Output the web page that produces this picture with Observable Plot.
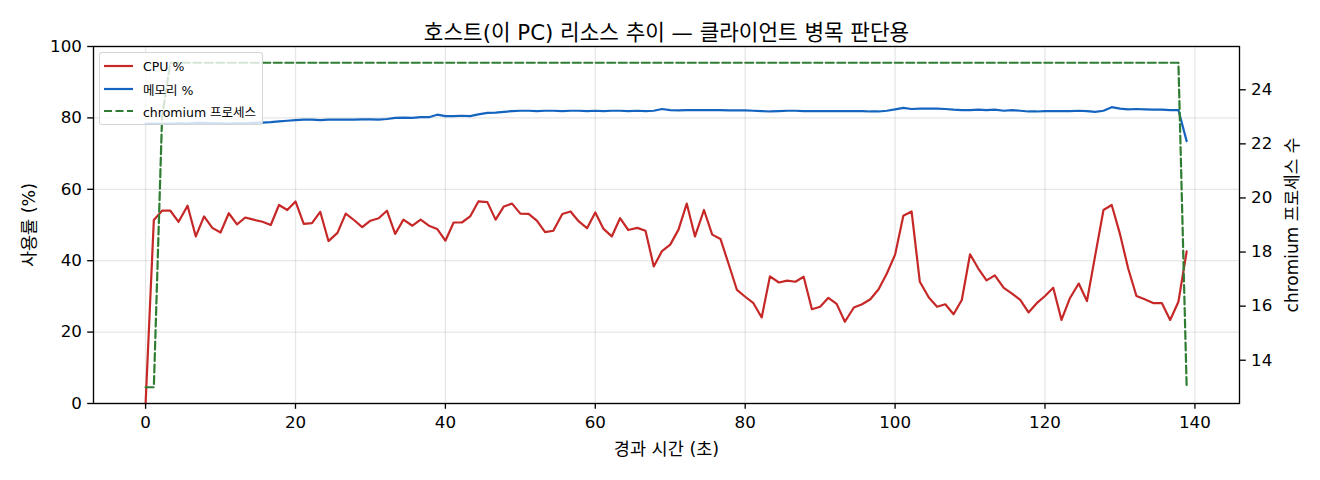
<!DOCTYPE html>
<html>
<head>
<meta charset="utf-8">
<script src="https://cdn.jsdelivr.net/npm/d3@7"></script>
<script src="https://cdn.jsdelivr.net/npm/@observablehq/plot@0.6"></script>
<style>
  html, body { margin: 0; padding: 0; background: #fff; }
  #wrap { position: relative; width: 1320px; height: 480px; font-family: "DejaVu Sans", "Noto Sans CJK KR", sans-serif; color: #000; }
  #wrap svg { position: absolute; left: 0; top: 0; }
  #legend { position: absolute; left: 99px; top: 52px; width: 162px; height: 71px; background: rgba(255,255,255,0.8); border: 1px solid rgba(204,204,204,0.8); border-radius: 3px; font-size: 12.5px; }
  .lrow { position: absolute; left: 4px; height: 20px; display: flex; align-items: center; }
  .lrow span { margin-left: 10px; white-space: nowrap; }
</style>
</head>
<body>
<div id="wrap"></div>
<script>
const title = "호스트(이 PC) 리소스 추이 — 클라이언트 병목 판단용";
const xLabel = "경과 시간 (초)";
const yLabelLeft = "사용률 (%)";
const yLabelRight = "chromium 프로세스 수";
const seriesNames = ["CPU %", "메모리 %", "chromium 프로세스"];
const seriesColors = ["#c62828", "#1565c0", "#2e7d32"];

const xTicks = [0, 20, 40, 60, 80, 100, 120, 140];
const yTicksLeft = [0, 20, 40, 60, 80, 100];
const yTicksRight = [14, 16, 18, 20, 22, 24];

const times = [
  0, 1.1, 2.2, 3.3, 4.4, 5.6, 6.7, 7.8, 8.9, 10.0,
  11.1, 12.2, 13.3, 14.4, 15.6, 16.7, 17.8, 18.9, 20.0, 21.1,
  22.2, 23.3, 24.4, 25.6, 26.7, 27.8, 28.9, 30.0, 31.1, 32.2,
  33.3, 34.4, 35.6, 36.7, 37.8, 38.9, 40.0, 41.1, 42.2, 43.3,
  44.4, 45.6, 46.7, 47.8, 48.9, 50.0, 51.1, 52.2, 53.3, 54.4,
  55.6, 56.7, 57.8, 58.9, 60.0, 61.1, 62.2, 63.3, 64.4, 65.6,
  66.7, 67.8, 68.9, 70.0, 71.1, 72.2, 73.3, 74.5, 75.6, 76.7,
  77.8, 78.9, 80.0, 81.1, 82.2, 83.3, 84.5, 85.6, 86.7, 87.8,
  88.9, 90.0, 91.1, 92.2, 93.3, 94.5, 95.6, 96.7, 97.8, 98.9,
  100.0, 101.1, 102.2, 103.3, 104.5, 105.6, 106.7, 107.8, 108.9, 110.0,
  111.1, 112.2, 113.3, 114.5, 115.6, 116.7, 117.8, 118.9, 120.0, 121.1,
  122.2, 123.3, 124.5, 125.6, 126.7, 127.8, 128.9, 130.0, 131.1, 132.2,
  133.3, 134.5, 135.6, 136.7, 137.8, 138.9
];

const cpu = [
  0, 51.4, 54.0, 54.0, 50.9, 55.4, 46.8, 52.4, 49.2, 47.9,
  53.3, 50.2, 52.1, 51.5, 50.9, 50.0, 55.6, 54.2, 56.6, 50.3,
  50.5, 53.7, 45.5, 47.8, 53.2, 51.4, 49.4, 51.2, 51.9, 54.0,
  47.5, 51.5, 49.8, 51.5, 49.8, 48.9, 45.6, 50.7, 50.7, 52.4,
  56.6, 56.4, 51.5, 55.2, 56.0, 53.2, 53.1, 51.2, 48.0, 48.4,
  53.1, 53.8, 51.0, 49.1, 53.5, 48.9, 46.8, 51.9, 48.6, 49.2,
  48.4, 38.4, 42.7, 44.5, 48.7, 56.0, 46.8, 54.2, 47.3, 46.1,
  39.0, 31.8, 29.9, 28.1, 24.1, 35.6, 33.9, 34.4, 34.1, 35.5,
  26.4, 27.1, 29.6, 27.9, 22.9, 26.9, 27.8, 29.2, 32.0, 36.4,
  41.7, 52.6, 53.8, 34.1, 29.7, 27.1, 27.8, 25.0, 29.0, 41.8,
  37.8, 34.5, 35.9, 32.4, 30.8, 29.0, 25.5, 28.1, 30.1, 32.4,
  23.4, 29.4, 33.6, 28.7, 41.5, 54.2, 55.6, 47.5, 37.8, 30.1,
  29.2, 28.1, 28.1, 23.4, 28.5, 42.6
];

const mem = [
  78.3, 78.4, 78.3, 78.4, 78.5, 78.4, 78.6, 78.6, 78.5,
  78.5, 78.4, 78.5, 78.5, 78.6, 78.7, 78.8, 79.0, 79.2,
  79.4, 79.5, 79.5, 79.4, 79.5, 79.5, 79.5, 79.5, 79.6,
  79.6, 79.5, 79.7, 80.0, 80.1, 80.0, 80.2, 80.2, 80.9,
  80.5, 80.5, 80.6, 80.5, 81.0, 81.4, 81.5, 81.7, 81.9,
  82.0, 82.0, 81.9, 82.0, 82.0, 81.9, 82.0, 82.0, 81.9,
  82.0, 81.9, 82.0, 82.0, 81.9, 82.0, 81.9, 82.0, 82.5,
  82.2, 82.1, 82.2, 82.2, 82.2, 82.2, 82.2, 82.1, 82.1,
  82.1, 82.0, 81.9, 81.8, 81.9, 82.0, 82.0, 81.9, 81.9,
  81.9, 81.9, 81.9, 81.9, 81.9, 81.9, 81.8, 81.8, 82.0,
  82.4, 82.8, 82.5, 82.6, 82.6, 82.6, 82.5, 82.3, 82.2,
  82.2, 82.3, 82.2, 82.3, 82.0, 82.2, 82.0, 81.8, 81.8,
  81.9, 81.9, 81.9, 81.9, 82.0, 81.9, 81.7, 82.0, 83.0,
  82.6, 82.4, 82.5, 82.4, 82.3, 82.3, 82.2, 82.2, 73.5
];

const chromium = [
  13, 13, 23,
  25, 25, 25, 25, 25, 25, 25, 25, 25, 25, 25, 25, 25, 25, 25, 25, 25, 25, 25, 25,
  25, 25, 25, 25, 25, 25, 25, 25, 25, 25, 25, 25, 25, 25, 25, 25, 25, 25, 25, 25,
  25, 25, 25, 25, 25, 25, 25, 25, 25, 25, 25, 25, 25, 25, 25, 25, 25, 25, 25, 25,
  25, 25, 25, 25, 25, 25, 25, 25, 25, 25, 25, 25, 25, 25, 25, 25, 25, 25, 25, 25,
  25, 25, 25, 25, 25, 25, 25, 25, 25, 25, 25, 25, 25, 25, 25, 25, 25, 25, 25, 25,
  25, 25, 25, 25, 25, 25, 25, 25, 25, 25, 25, 25, 25, 25, 25, 25, 25, 25, 25, 25,
  25, 25,
  13
];

const rows = times.map((t, i) => ({t, cpu: cpu[i], mem: mem[i], chrom: chromium[i]}));

const W = 1320, H = 480;
const margins = {marginLeft: 93, marginRight: 81, marginTop: 46, marginBottom: 77};
const xDomain = [-6.95, 145.95];
const font = "\"DejaVu Sans\", \"Noto Sans CJK KR\", sans-serif";
const baseStyle = {fontFamily: font, fontSize: "16.7px", background: "transparent", color: "#000", overflow: "visible"};
const gridStyle = {stroke: "#b0b0b0", strokeOpacity: 0.3, strokeWidth: 1.33};
const lw = 2.2;

const left = Plot.plot({
  width: W, height: H, ...margins,
  x: {domain: xDomain},
  y: {domain: [0, 100]},
  style: baseStyle,
  marks: [
    Plot.gridX(xTicks, gridStyle),
    Plot.gridY(yTicksLeft, gridStyle),
    Plot.line(rows, {x: "t", y: "cpu", stroke: seriesColors[0], strokeWidth: lw}),
    Plot.line(rows, {x: "t", y: "mem", stroke: seriesColors[1], strokeWidth: lw}),
    Plot.axisX(xTicks, {tickSize: 5.8, tickPadding: 7, strokeWidth: 1.33, label: null, fontSize: 16.7}),
    Plot.axisY(yTicksLeft, {tickSize: 5.8, tickPadding: 5.8, strokeWidth: 1.33, label: null, fontSize: 16.7}),
    Plot.frame({stroke: "#000", strokeWidth: 1.33}),
    Plot.text([title], {text: d => d, frameAnchor: "top", dy: -22, fontSize: 21.3}),
    Plot.text([xLabel], {text: d => d, frameAnchor: "bottom", dy: 51, fontSize: 17.5}),
    Plot.text([yLabelLeft], {text: d => d, frameAnchor: "left", textAnchor: "middle", dx: -64, rotate: -90, fontSize: 17.5})
  ]
});

const right = Plot.plot({
  width: W, height: H, ...margins,
  x: {domain: xDomain, axis: null},
  y: {domain: [12.4, 25.6], axis: null},
  style: baseStyle,
  marks: [
    Plot.line(rows, {x: "t", y: "chrom", stroke: seriesColors[2], strokeWidth: lw, strokeDasharray: "8,3.5"}),
    Plot.axisY(yTicksRight, {anchor: "right", tickSize: 5.8, tickPadding: 5.8, strokeWidth: 1.33, label: null, fontSize: 16.7}),
    Plot.text([yLabelRight], {text: d => d, frameAnchor: "right", textAnchor: "middle", dx: 53, rotate: -90, fontSize: 17})
  ]
});

const wrap = document.getElementById("wrap");
wrap.appendChild(left);
wrap.appendChild(right);

const legend = document.createElement("div");
legend.id = "legend";
const rowTops = [3, 26.3, 48];
seriesNames.forEach((name, i) => {
  const r = document.createElement("div");
  r.className = "lrow";
  r.style.top = rowTops[i] + "px";
  const dash = i === 2 ? ' stroke-dasharray="8,3.5"' : '';
  r.innerHTML = `<svg width="29" height="6" style="position:static"><line x1="0" y1="3" x2="29" y2="3" stroke="${seriesColors[i]}" stroke-width="${lw}"${dash}/></svg><span>${name}</span>`;
  legend.appendChild(r);
});
wrap.appendChild(legend);
</script>
</body>
</html>
